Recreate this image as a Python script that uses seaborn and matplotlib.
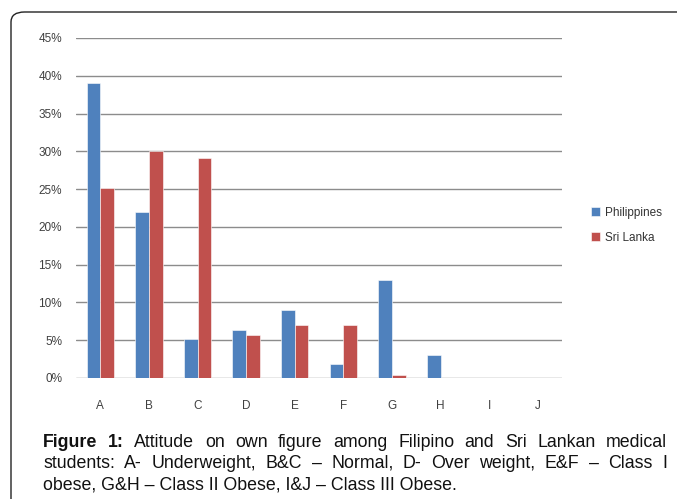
import pandas as pd
import matplotlib.pyplot as plt
import seaborn as sns
from matplotlib.patches import FancyBboxPatch
from matplotlib.ticker import FixedLocator, FuncFormatter

categories = ["A", "B", "C", "D", "E", "F", "G", "H", "I", "J"]
philippines = [39.0, 22.0, 5.2, 6.4, 9.0, 1.8, 13.0, 3.1, 0.0, 0.0]
sri_lanka = [25.2, 30.0, 29.1, 5.7, 7.0, 7.0, 0.4, 0.0, 0.0, 0.0]
series_names = ["Philippines", "Sri Lanka"]
colors = ["#4F81BD", "#C0504D"]
y_ticks = [0, 5, 10, 15, 20, 25, 30, 35, 40, 45]

caption_lines = [
    "Attitude on own figure among Filipino and Sri Lankan medical",
    "students: A- Underweight, B&C \u2013 Normal, D- Over weight, E&F \u2013 Class I",
    "obese, G&H \u2013 Class II Obese, I&J \u2013 Class III Obese.",
]

df = pd.DataFrame({
    "category": categories * 2,
    "value": philippines + sri_lanka,
    "country": [series_names[0]] * len(categories) + [series_names[1]] * len(categories),
})

sns.set_style("white")
plt.rcParams["font.family"] = ["Liberation Sans", "DejaVu Sans"]

W, H = 677, 499
fig = plt.figure(figsize=(W / 100, H / 100), dpi=100)

# outer frame with rounded corner (cropped on right/bottom)
frame = FancyBboxPatch((11 / W, -0.2), 1.2, (H - 12) / H + 0.2,
                       boxstyle="round,pad=0,rounding_size=0.02",
                       transform=fig.transFigure, fill=False,
                       edgecolor="#222222", linewidth=1.0)
fig.patches.append(frame)

ax = fig.add_axes([76 / W, 121 / H, (562 - 76) / W, 340 / H])
sns.barplot(data=df, x="category", y="value", hue="country", palette=colors,
            width=0.56, gap=0, ax=ax, edgecolor="#ffffff", linewidth=0.4,
            saturation=1, legend=True)

ax.set_ylim(0, 45)
ax.set_xlim(-0.5, len(categories) - 0.5)
ax.set_yticks(y_ticks)
ax.yaxis.set_major_formatter(FuncFormatter(lambda v, p: f"{int(v)}%"))
ax.yaxis.grid(True, color="#8c8c8c", linewidth=1.0)
ax.set_axisbelow(True)
for s in ax.spines.values():
    s.set_visible(False)
ax.tick_params(axis="y", length=0, pad=10, labelsize=8.5, labelcolor="#404040")
ax.tick_params(axis="x", which="major", length=0, pad=16, labelsize=8.5, labelcolor="#404040")
ax.xaxis.set_minor_locator(FixedLocator([i + 0.5 for i in range(len(categories))]))
ax.tick_params(axis="x", which="minor", length=4, width=1, color="#9a9a9a", direction="out", pad=0)
ax.set_xlabel("")
ax.set_ylabel("")

handles, labels = ax.get_legend_handles_labels()
ax.legend_.remove()
fig.legend(handles, labels, loc="upper left", bbox_to_anchor=(580 / W, 1 - 196 / H),
           frameon=False, fontsize=8.5, handlelength=0.8, handleheight=0.8,
           handletextpad=0.4, labelspacing=1.1, labelcolor="#333333")

# justified caption
renderer = fig.canvas.get_renderer()
left, right = 43, 667
baselines = [447, 468, 489]
fs = 12.8


def word_width(t, **kw):
    tx = fig.text(0, 0, t, fontsize=fs, **kw)
    w = tx.get_window_extent(renderer).width
    tx.remove()
    return w


for li, line in enumerate(caption_lines):
    words = line.split(" ")
    items = [(w, "normal") for w in words]
    if li == 0:
        items = [("Figure", "bold"), ("1:", "bold")] + items
    y = 1 - baselines[li] / H
    if li < 2:
        widths = [word_width(w, fontweight=fw) for w, fw in items]
        space = (right - left - sum(widths)) / (len(items) - 1)
        x = left
        for (w, fw), ww in zip(items, widths):
            fig.text(x / W, y, w, fontsize=fs, fontweight=fw, va="baseline", ha="left", color="#111111")
            x += ww + space
    else:
        fig.text(left / W, y, line, fontsize=fs, va="baseline", ha="left", color="#111111")

plt.savefig("out.png", dpi=100)
